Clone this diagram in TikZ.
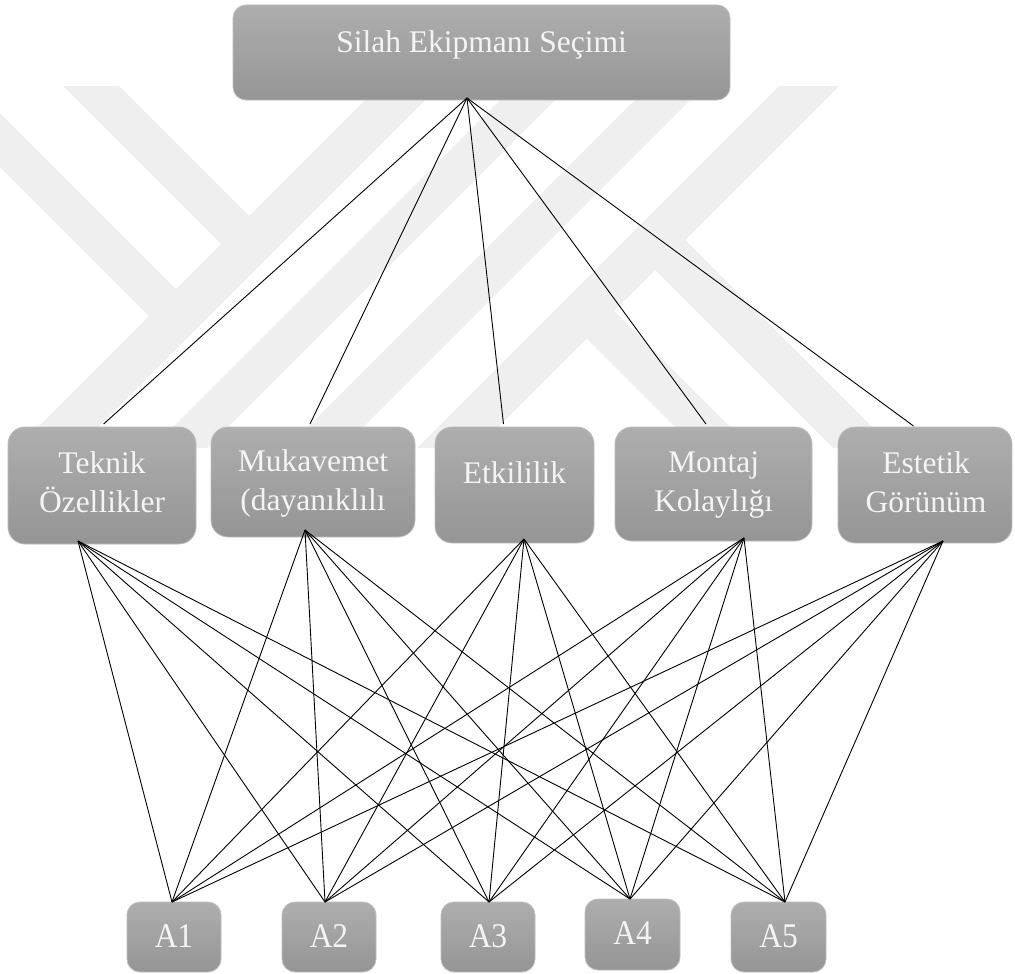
\documentclass[tikz,border=0pt]{standalone}
\usepackage{fontspec}
\setmainfont{Liberation Serif}
\usepackage{graphicx}
\usetikzlibrary{calc}
\definecolor{boxtop}{HTML}{AEAEAE}
\definecolor{boxbot}{HTML}{959595}
\definecolor{wm}{HTML}{EFEFEF}
\definecolor{txt}{HTML}{F4F4F4}
\definecolor{edgecol}{HTML}{BDBDBD}
\begin{document}
\begin{tikzpicture}[x=1pt,y=-1pt,
  rbox/.style={draw=edgecol, line width=0.8pt, top color=boxtop, bottom color=boxbot,
    rounded corners=#1, inner sep=0pt, outer sep=0pt},
  rbox/.default=17pt,
  lbl/.style={text=txt, inner sep=0pt, align=center,
    font=\fontsize{31.5}{38.5}\selectfont},
  conn/.style={draw=black, line width=0.9pt}]
\useasboundingbox (0,0) rectangle (1015,974);
\fill[white] (0,0) rectangle (1015,974);
% watermark
\begin{scope}
\clip (0,87) rectangle (1015,447);
\fill[wm] (425,40) -- (485,40) -- (5,520) -- (-55,520) -- cycle;
\fill[wm] (560,40) -- (615,40) -- (135,520) -- (80,520) -- cycle;
\fill[wm] (695,40) -- (750,40) -- (270,520) -- (215,520) -- cycle;
\fill[wm] (825,40) -- (885,40) -- (405,520) -- (345,520) -- cycle;
\fill[wm] (-183.5,-16.5) -- (-156.5,-43.5) -- (191,304) -- (164,331) -- cycle;
\fill[wm] (-11.5,11.5) -- (16.5,-16.5) -- (264,231) -- (236,259) -- cycle;
\fill[wm] (571.5,323.5) -- (599,296) -- (951.5,648.5) -- (924,676) -- cycle;
\fill[wm] (640,255) -- (670,225) -- (1022.5,577.5) -- (992.5,607.5) -- cycle;
\end{scope}
% boxes
\node[rbox=13pt, minimum width=497pt, minimum height=95pt] (top) at (481.5,52.5) {};
\node[rbox, minimum width=188pt, minimum height=117pt] (c1) at (102,485.5) {};
\node[rbox, minimum width=204pt, minimum height=110pt] (c2) at (313,482) {};
\node[rbox, minimum width=159pt, minimum height=116pt] (c3) at (514.5,485) {};
\node[rbox, minimum width=197pt, minimum height=114pt] (c4) at (713.5,484) {};
\node[rbox, minimum width=174pt, minimum height=116pt] (c5) at (925,485) {};
\node[rbox=13pt, minimum width=94pt, minimum height=70pt] (a1) at (174,937) {};
\node[rbox=13pt, minimum width=94pt, minimum height=70pt] (a2) at (329,937) {};
\node[rbox=13pt, minimum width=94pt, minimum height=70pt] (a3) at (488,937) {};
\node[rbox=13pt, minimum width=95pt, minimum height=71pt] (a4) at (632.5,934.5) {};
\node[rbox=13pt, minimum width=95pt, minimum height=70pt] (a5) at (778.5,937) {};
% attachment points
\coordinate (tp) at ([xshift=-14.5pt,yshift=2pt]top.south);
\coordinate (c1n) at ([xshift=1.6pt,yshift=3pt]c1.north);
\coordinate (c2n) at ([xshift=-3pt,yshift=3pt]c2.north);
\coordinate (c3n) at ([xshift=-11pt,yshift=3pt]c3.north);
\coordinate (c4n) at ([xshift=-7.5pt,yshift=3pt]c4.north);
\coordinate (c5n) at ([xshift=-11.5pt,yshift=1pt]c5.north);
\coordinate (c1s) at ([xshift=-24pt,yshift=3pt]c1.south);
\coordinate (c2s) at ([xshift=-8pt,yshift=7pt]c2.south);
\coordinate (c3s) at ([xshift=9.5pt,yshift=4pt]c3.south);
\coordinate (c4s) at ([xshift=30.5pt,yshift=3pt]c4.south);
\coordinate (c5s) at ([xshift=18pt,yshift=2pt]c5.south);
\coordinate (a1n) at ([xshift=-2pt]a1.north);
\coordinate (a2n) at ([xshift=-4pt]a2.north);
\coordinate (a3n) at ([xshift=1pt]a3.north);
\coordinate (a4n) at ([xshift=-2.5pt]a4.north);
\coordinate (a5n) at ([xshift=6.5pt]a5.north);
% connectors
\foreach \c in {c1n,c2n,c3n,c4n,c5n} \draw[conn] (tp) -- (\c);
\foreach \c in {c1s,c2s,c3s,c4s,c5s}
  \foreach \a in {a1n,a2n,a3n,a4n,a5n}
    \draw[conn] (\c) -- (\a);
% texts
\node[lbl, anchor=base] (toptxt) at (481.5,53) {Silah Ekipmanı Seçimi};
\node[lbl, anchor=base] (c1txt) at (102,512) {Teknik\\Özellikler};
\node[lbl, anchor=base] (c2txt) at (313,510) {Mukavemet\\(dayanıklılı};
\node[lbl, anchor=base] (c3txt) at (514.5,483) {Etkililik};
\node[lbl, anchor=base] (c4txt) at (713.5,511) {Montaj\\Kolaylığı};
\node[lbl, anchor=base] (c5txt) at (926,512) {Estetik\\Görünüm};
\node[lbl, anchor=base] (a1txt) at (174,947) {\scalebox{1}[1.1]{A1}};
\node[lbl, anchor=base] (a2txt) at (329,947) {\scalebox{1}[1.1]{A2}};
\node[lbl, anchor=base] (a3txt) at (488,947) {\scalebox{1}[1.1]{A3}};
\node[lbl, anchor=base] (a4txt) at (632.5,944) {\scalebox{1}[1.1]{A4}};
\node[lbl, anchor=base] (a5txt) at (778.5,947) {\scalebox{1}[1.1]{A5}};
\end{tikzpicture}
\end{document}
